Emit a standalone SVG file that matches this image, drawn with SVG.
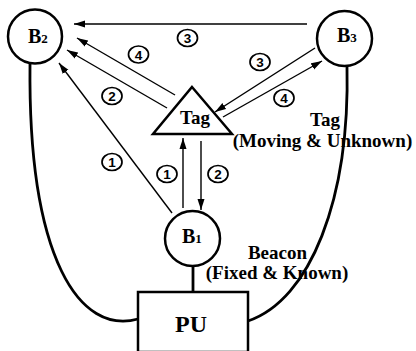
<svg xmlns="http://www.w3.org/2000/svg" width="416" height="351" viewBox="0 0 416 351">
<style>
.node{fill:#fff;stroke:#000;stroke-width:2.5}
.wire{fill:none;stroke:#000;stroke-width:2.8}
.arr{fill:none;stroke:#000;stroke-width:1.4;marker-end:url(#ah)}
.lbl{font-family:"Liberation Serif","Times New Roman",serif;font-weight:bold;fill:#000}
.num ellipse{fill:#fff;stroke:#000;stroke-width:1.7}
.num text{font-family:"Liberation Sans",Arial,sans-serif;font-weight:bold;font-size:13.5px;text-anchor:middle;fill:#000}
</style>
<defs>
<marker id="ah" markerWidth="12" markerHeight="8" refX="11" refY="4" orient="auto" markerUnits="userSpaceOnUse">
<path d="M0,0.5 L11,4 L0,7.5 Z" fill="#000"/>
</marker>
</defs>
<g id="connectors">
<path class="wire" d="M30,64 C28,260 80,335 138,319"/>
<path class="wire" d="M347,66 C350,200 310,300 248,321"/>
<line class="wire" x1="193" y1="266" x2="193" y2="292"/>
<line class="arr" x1="307" y1="24" x2="74" y2="24"/>
<line class="arr" x1="175" y1="95" x2="77" y2="38"/>
<line class="arr" x1="167" y1="108" x2="67" y2="50"/>
<line class="arr" x1="172" y1="213" x2="59" y2="63"/>
<line class="arr" x1="183" y1="208" x2="183" y2="138"/>
<line class="arr" x1="201" y1="141" x2="201" y2="210"/>
<line class="arr" x1="315" y1="48" x2="215" y2="112"/>
<line class="arr" x1="223" y1="117" x2="322" y2="61"/>
</g>
<g id="B2">
<circle class="node" cx="35" cy="36.5" r="27"/>
<text class="lbl" x="28" y="43" font-size="20">B<tspan font-size="13">2</tspan></text>
</g>
<g id="B3">
<circle class="node" cx="344.5" cy="38.5" r="27.5"/>
<text class="lbl" x="337" y="42" font-size="20">B<tspan font-size="13">3</tspan></text>
</g>
<g id="B1">
<circle class="node" cx="192.5" cy="238.5" r="27.5"/>
<text class="lbl" x="182" y="243" font-size="20">B<tspan font-size="13">1</tspan></text>
</g>
<g id="Tag">
<polygon class="node" points="192,87 232,134 153,134"/>
<text class="lbl" x="195" y="124" font-size="19" text-anchor="middle">Tag</text>
</g>
<g id="PU">
<rect class="node" x="138" y="292" width="110" height="60"/>
<text class="lbl" x="191" y="332" font-size="24" text-anchor="middle">PU</text>
</g>
<g id="labels">
<text class="lbl" x="325" y="126" font-size="19" text-anchor="middle">Tag</text>
<text class="lbl" x="322.5" y="147" font-size="19" text-anchor="middle">(Moving &amp; Unknown)</text>
<text class="lbl" x="277.5" y="259" font-size="19" text-anchor="middle">Beacon</text>
<text class="lbl" x="277" y="279" font-size="19" text-anchor="middle">(Fixed &amp; Known)</text>
</g>
<g id="step-labels" class="num">
<g><ellipse cx="187.5" cy="38" rx="10" ry="8.5"/><text x="187.5" y="43">3</text></g>
<g><ellipse cx="138.5" cy="54.5" rx="10" ry="8.5"/><text x="138.5" y="59.5">4</text></g>
<g><ellipse cx="112" cy="96" rx="10" ry="8.5"/><text x="112" y="101">2</text></g>
<g><ellipse cx="112" cy="162" rx="10" ry="8.5"/><text x="112" y="167">1</text></g>
<g><ellipse cx="167" cy="174" rx="10" ry="8.5"/><text x="167" y="179">1</text></g>
<g><ellipse cx="218" cy="174" rx="10" ry="8.5"/><text x="218" y="179">2</text></g>
<g><ellipse cx="260" cy="62" rx="10" ry="8.5"/><text x="260" y="67">3</text></g>
<g><ellipse cx="284" cy="98" rx="10" ry="8.5"/><text x="284" y="103">4</text></g>
</g>
</svg>
